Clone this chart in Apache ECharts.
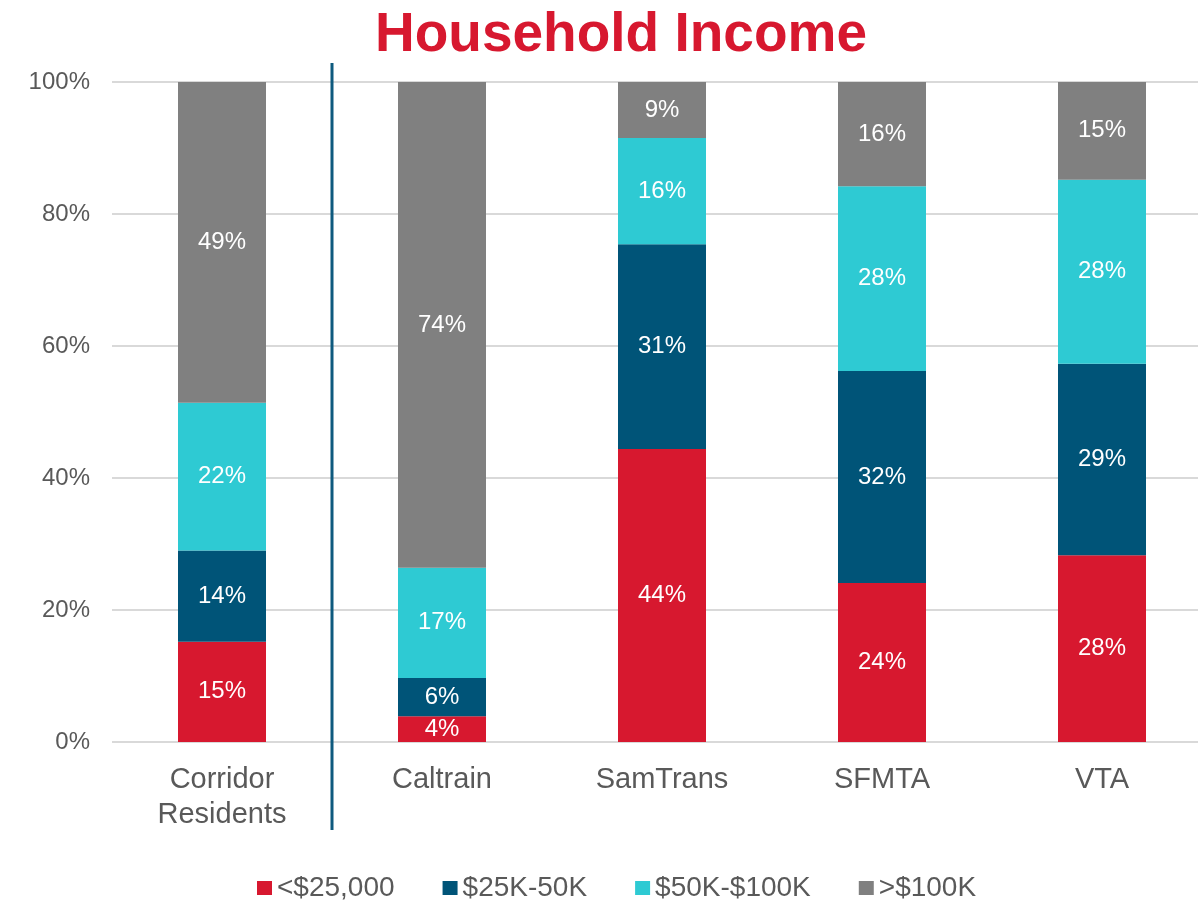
<!DOCTYPE html>
<html>
<head>
<meta charset="utf-8">
<script src="https://cdn.jsdelivr.net/npm/echarts@6/dist/echarts.min.js"></script>
<style>
html,body{margin:0;padding:0;background:#fff;}
#c{width:1198px;height:900px;}
</style>
</head>
<body>
<div id="c"></div>
<script>
// Data (percent of riders)
var categories = ['Corridor\nResidents', 'Caltrain', 'SamTrans', 'SFMTA', 'VTA'];
var seriesNames = ['<$25,000', '$25K-50K', '$50K-$100K', '>$100K'];
var under25k = [15.2, 3.9, 44.4, 24.1, 28.3];
var k25to50 = [13.8, 5.8, 31.0, 32.1, 29.0];
var k50to100 = [22.4, 16.7, 16.1, 28.0, 27.9];
var over100k = [48.6, 73.6, 8.5, 15.8, 14.8];
var yTicks = [0, 20, 40, 60, 80, 100];

var colors = ['#D7182F', '#005478', '#2ECAD3', '#808080'];
var values = [under25k, k25to50, k50to100, over100k];
var font = 'Liberation Sans, Arial, sans-serif';

var chart = echarts.init(document.getElementById('c'));
var series = seriesNames.map(function (n, i) {
  return {
    name: n,
    type: 'bar',
    stack: 'total',
    barWidth: 88,
    data: values[i],
    itemStyle: { color: colors[i] },
    label: {
      show: true,
      position: 'inside',
      color: '#ffffff',
      fontFamily: font,
      fontSize: 24,
      formatter: function (p) { return Math.round(p.value) + '%'; }
    }
  };
});

chart.setOption({
  animation: false,
  title: {
    text: 'Household Income',
    left: 616,
    textAlign: 'center',
    top: 3,
    textStyle: { color: '#D7182F', fontFamily: font, fontWeight: 'bold', fontSize: 55 }
  },
  legend: {
    top: 869,
    left: 252,
    itemWidth: 15,
    itemHeight: 14,
    itemGap: 48,
    icon: 'rect',
    textStyle: { color: '#595959', fontFamily: font, fontSize: 28 },
    data: seriesNames
  },
  grid: { left: 112, width: 1100, top: 82, bottom: 158, containLabel: false, outerBoundsMode: 'none' },
  xAxis: {
    type: 'category',
    data: categories,
    axisLine: { show: false },
    axisTick: { show: false },
    axisLabel: { color: '#595959', fontFamily: font, fontSize: 29, margin: 20, lineHeight: 35 }
  },
  yAxis: {
    type: 'value',
    min: 0,
    max: 100,
    interval: 20,
    axisLine: { show: false },
    axisTick: { show: false },
    splitLine: { lineStyle: { color: '#D9D9D9', width: 2 } },
    axisLabel: {
      color: '#595959', fontFamily: font, fontSize: 24, margin: 22,
      formatter: function (v) { return yTicks.indexOf(v) >= 0 ? v + '%' : ''; }
    }
  },
  series: series
});

// divider between the first category and the rest
var x0 = chart.convertToPixel({ xAxisIndex: 0 }, 0);
var x1 = chart.convertToPixel({ xAxisIndex: 0 }, 1);
var xd = (x0 + x1) / 2;
chart.setOption({
  graphic: [{
    type: 'line',
    shape: { x1: xd, y1: 63, x2: xd, y2: 830 },
    style: { stroke: '#0E5A7E', lineWidth: 3 },
    z: 100
  }]
});
</script>
</body>
</html>
